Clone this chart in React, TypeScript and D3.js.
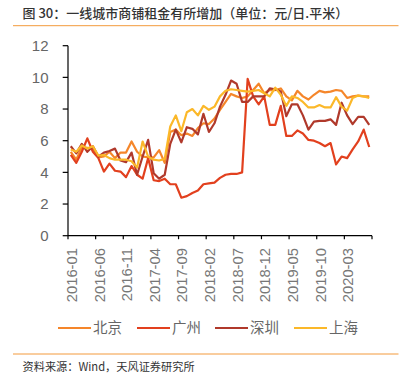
import React from "react";
import * as d3 from "d3";

const months: string[] = d3.range(55).map((i) => {
  const y = 2016 + Math.floor(i / 12);
  const m = (i % 12) + 1;
  return `${y}-${String(m).padStart(2, "0")}`;
});

const tickLabels = ["2016-01", "2016-06", "2016-11", "2017-04", "2017-09", "2018-02", "2018-07", "2018-12", "2019-05", "2019-10", "2020-03"];
const yTicks = [0, 2, 4, 6, 8, 10, 12];

const beijing = [5.3, 4.8, 5.6, 5.55, 5.5, 4.95, 5.0, 5.3, 4.9, 5.25, 5.25, 5.95, 5.3, 5.0, 4.95, 4.95, 5.4, 4.6, 6.55, 6.7, 6.35, 6.45, 6.3, 6.8, 7.1, 7.05, 7.4, 7.95, 8.45, 8.95, 8.8, 8.7, 8.8, 9.2, 9.6, 9.0, 9.2, 9.2, 9.3, 8.8, 8.55, 9.15, 8.8, 8.6, 8.9, 9.15, 9.05, 9.1, 9.2, 9.15, 8.7, 8.8, 8.85, 8.8, 8.8];
const guangzhou = [5.1, 4.6, 5.3, 6.15, 5.3, 4.9, 4.05, 4.55, 4.1, 4.05, 3.7, 4.4, 3.85, 3.6, 4.9, 3.5, 3.45, 3.6, 3.25, 3.25, 2.4, 2.5, 2.7, 2.85, 3.25, 3.3, 3.35, 3.65, 3.85, 3.9, 3.9, 4.0, 9.9, 8.8, 8.3, 8.8, 7.0, 7.0, 8.2, 6.3, 6.3, 6.65, 6.45, 6.05, 6.0, 5.85, 5.65, 5.85, 4.5, 5.0, 4.9, 5.45, 5.95, 6.7, 5.6];
const shenzhen = [5.65, 5.2, 5.8, 5.3, 5.65, 5.0, 5.25, 5.35, 5.5, 4.75, 4.65, 5.25, 3.85, 5.0, 6.05, 3.95, 3.6, 3.85, 5.8, 6.7, 5.9, 6.85, 6.75, 6.4, 7.7, 6.55, 7.1, 8.15, 8.9, 9.8, 9.6, 8.45, 8.45, 8.8, 8.8, 8.8, 9.3, 9.25, 9.1, 7.55, 8.3, 8.3, 7.6, 6.7, 7.2, 7.25, 7.25, 7.35, 7.0, 8.4, 7.6, 7.05, 7.5, 7.5, 7.0];
const shanghai = [5.45, 5.3, 5.7, 5.5, 5.65, 5.05, 5.1, 4.9, 4.8, 4.8, 4.8, 4.7, 4.3, 5.95, 5.0, 4.8, 4.75, 4.85, 6.9, 7.6, 6.6, 7.8, 8.0, 7.6, 8.2, 7.95, 8.15, 8.8, 9.15, 9.25, 9.2, 9.15, 9.1, 9.15, 9.2, 9.0, 8.8, 9.35, 8.9, 8.2, 8.8, 8.7, 8.45, 8.1, 8.1, 8.25, 8.1, 8.1, 8.75, 8.15, 7.9, 8.7, 8.85, 8.8, 8.7];

const seriesNames = ["北京", "广州", "深圳", "上海"];
const seriesColors = ["#F5862A", "#E2401E", "#B0392B", "#FBB829"];
const seriesData = [beijing, guangzhou, shenzhen, shanghai];

const title = "图 30：一线城市商铺租金有所增加（单位：元/日.平米）";
const source = "资料来源：Wind，天风证券研究所";

const CJK = '"Noto Sans CJK SC", "Noto Sans", sans-serif';
const NUM = '"Liberation Sans", Arial, sans-serif';

export default function App() {
  const x = d3.scaleBand<string>().domain(months).range([68, 372]).padding(0);
  const y = d3.scaleLinear().domain([0, 12]).range([235.7, 45.7]);
  const cx = (m: string) => (x(m) as number) + x.bandwidth() / 2;
  const line = d3
    .line<number>()
    .x((_, i) => cx(months[i]))
    .y((d) => y(d));

  const tickEdges = d3.range(0, 56, 5).map((i) => (i < 55 ? (x(months[i]) as number) : 372));
  const legendX = [58, 137, 215, 294];

  return (
    <svg width={404} height={383} style={{ position: "absolute", left: 0, top: 0, background: "#fff" }}>
      <text x={22.5} y={18} fontFamily={CJK} fontSize={13} fontWeight={500} fill="#333">{title}</text>
      <line x1={13} x2={398.5} y1={25.7} y2={25.7} stroke="#F39A3C" strokeWidth={1} />

      {/* y axis */}
      <line x1={68} x2={68} y1={y(12)} y2={y(0)} stroke="#000" strokeWidth={1.2} />
      {yTicks.map((t) => (
        <g key={t}>
          <line x1={62.7} x2={68} y1={y(t)} y2={y(t)} stroke="#000" strokeWidth={1.2} />
          <text x={48.5} y={y(t)} dy="0.36em" textAnchor="end" fontFamily={NUM} fontSize={15} fill="#666">{t}</text>
        </g>
      ))}

      {/* x axis */}
      <line x1={68} x2={372} y1={y(0)} y2={y(0)} stroke="#000" strokeWidth={1.2} />
      {tickEdges.map((tx, i) => (
        <line key={i} x1={tx} x2={tx} y1={y(0)} y2={y(0) + 3.5} stroke="#000" strokeWidth={1.2} />
      ))}
      {tickLabels.map((lab) => {
        const px = cx(lab);
        return (
          <text key={lab} transform={`translate(${px + 0.8},248) rotate(-90)`} dy="0.36em" textAnchor="end" fontFamily={NUM} fontSize={14.8} fill="#777">{lab}</text>
        );
      })}

      {/* lines */}
      {seriesData.map((d, k) => (
        <path key={k} d={line(d) as string} fill="none" stroke={seriesColors[k]} strokeWidth={2.2} strokeLinejoin="round" />
      ))}

      {/* legend */}
      {seriesNames.map((n, k) => (
        <g key={n}>
          <line x1={legendX[k]} x2={legendX[k] + 33} y1={328} y2={328} stroke={seriesColors[k]} strokeWidth={2.2} />
          <text x={legendX[k] + 35} y={328} dy="0.36em" fontFamily={CJK} fontSize={14.5} fill="#666">{n}</text>
        </g>
      ))}

      <line x1={13} x2={398.5} y1={354} y2={354} stroke="#F39A3C" strokeWidth={1} />
      <text x={22.5} y={367} dy="0.35em" fontFamily={CJK} fontSize={11.2} fill="#333">{source}</text>
    </svg>
  );
}
